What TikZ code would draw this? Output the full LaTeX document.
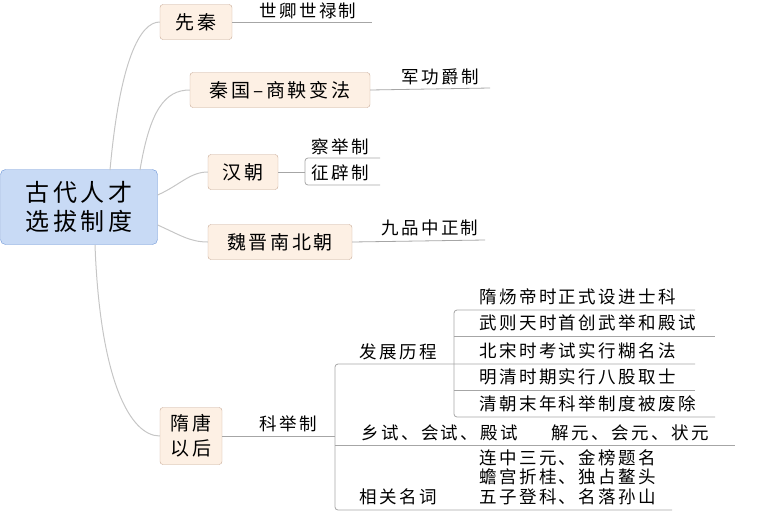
\documentclass[tikz,border=0pt]{standalone}
\usepackage{fontspec}
\setmainfont[LetterSpace=14]{Noto Sans CJK SC}
\definecolor{rootfill}{RGB}{200,218,245}
\definecolor{rootline}{RGB}{110,150,215}
\definecolor{topicfill}{RGB}{253,240,228}
\definecolor{topicline}{RGB}{200,170,150}
\tikzset{
  topic/.style={draw=topicline, fill=topicfill, rounded corners=3pt, inner sep=3pt, font=\fontsize{19}{22}\selectfont},
  leaf/.style={font=\fontsize{17.5}{18}\selectfont, inner sep=1pt, anchor=west},
  branch/.style={draw=gray!70, line width=0.8pt},
  link/.style={draw=gray!45, line width=1pt}
}
\begin{document}
\begin{tikzpicture}[x=1pt,y=-1pt]
\useasboundingbox (0,0) rectangle (782,525);
% root
\node [draw=rootline, fill=rootfill, rounded corners=5pt, minimum width=157, minimum height=75, align=center, font=\fontsize{24}{29}\selectfont] (root) at (79,207) {古代人才\\选拔制度};
% main topics
\node [topic, minimum width=72, minimum height=35] (xianqin) at (196,22) {先秦};
\node [topic, minimum width=180, minimum height=35] (qin) at (280,90) {秦国–商鞅变法};
\node [topic, minimum width=70, minimum height=35] (han) at (243,172) {汉朝};
\node [topic, minimum width=144, minimum height=35] (wei) at (280,242) {魏晋南北朝};
\node [topic, minimum width=62, minimum height=57, align=center, font=\fontsize{19}{25}\selectfont] (sui) at (191,436) {隋唐\\以后};
% curves from root
\draw [link] (110,170) .. controls (120,60) and (140,22) .. (xianqin.west);
\draw [link] (140,170) .. controls (150,110) and (165,90) .. (qin.west);
\draw [link] (root.east |- 0,195) .. controls (180,185) and (190,172) .. (han.west);
\draw [link] (root.east |- 0,225) .. controls (180,235) and (190,242) .. (wei.west);
\draw [link] (95,245) .. controls (100,380) and (130,436) .. (sui.west);
% leaves
\node [leaf] (l1) at (258,11) {世卿世禄制};
\draw [branch] (xianqin.east |- 0,22) -- (372,22);
\node [leaf] (l2) at (400,77) {军功爵制};
\draw [branch] (qin.east) -- (490,88);
\node [leaf] (l3a) at (310,147) {察举制};
\node [leaf] (l3b) at (310,173) {征辟制};
\draw [branch] (han.east) -- (305,172);
\draw [branch, rounded corners=3pt] (380,158) -- (305,158) -- (305,185) -- (380,185);
\node [leaf] (l4) at (380,228) {九品中正制};
\draw [branch] (wei.east) -- (485,240);
% keju
\node [leaf] (keju) at (258,424) {科举制};
\draw [branch] (sui.east |- 0,436) -- (335,436);
\draw [branch, rounded corners=3pt] (695,364) -- (335,364) -- (335,510) -- (672,510);
\draw [branch] (335,445) -- (735,445);
\node [leaf] (fz) at (358,352) {发展历程};
\node [leaf] (xg) at (358,497) {相关名词};
\node [leaf] (ks) at (360,433) {乡试、会试、殿试\hspace{1.9em}解元、会元、状元};
\draw [branch, rounded corners=3pt] (695,310) -- (454,310) -- (454,417) -- (715,417);
\draw [branch] (454,336) -- (715,336);
\draw [branch] (454,390) -- (695,390);
\node [leaf] (d1) at (478,297) {隋炀帝时正式设进士科};
\node [leaf] (d2) at (478,323) {武则天时首创武举和殿试};
\node [leaf] (d3) at (478,351) {北宋时考试实行糊名法};
\node [leaf] (d4) at (478,377) {明清时期实行八股取士};
\node [leaf] (d5) at (478,404) {清朝末年科举制度被废除};
\node [leaf, align=left, font=\fontsize{17.5}{19.5}\selectfont] (mc) at (478,477) {连中三元、金榜题名\\蟾宫折桂、独占鳌头\\五子登科、名落孙山};
\end{tikzpicture}
\end{document}
